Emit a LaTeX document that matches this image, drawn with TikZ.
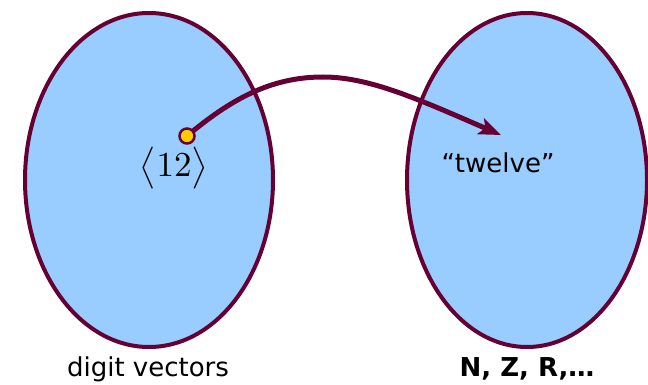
\documentclass[tikz,border=0pt]{standalone}
\usepackage{fontspec}
\setsansfont{DejaVu Sans}
\usetikzlibrary{positioning,arrows.meta,shapes.geometric}
\definecolor{ink}{HTML}{000000}
\definecolor{sMaroon}{HTML}{660033}
\definecolor{setBlue}{HTML}{99CCFF}
\definecolor{sGold}{HTML}{FFCC00}
\tikzset{
  setblob/.style={ellipse, draw=sMaroon, fill=setBlue, line width=4pt, inner sep=0pt, minimum width=248pt, minimum height=334pt},
  dot/.style={circle, draw=sMaroon, fill=sGold, line width=2.5pt, inner sep=0pt, minimum size=15pt},
  lbl/.style={font=\sffamily\fontsize{26}{30}\selectfont, text=ink, inner sep=0pt},
  maparrow/.style={-{Stealth[length=22pt, width=17pt, inset=5pt]}, draw=sMaroon, line width=5pt},
}

\begin{document}
\begin{tikzpicture}[x=1pt, y=-1pt, font=\sffamily]
\useasboundingbox (0,0) rectangle (648,385);
\node[setblob] (vec) at (149,180) {};
\node[setblob, minimum width=240pt] (num) at (527,180) {};
\node[lbl] (veclbl) at (148,369) {digit vectors};
\node[lbl, font=\sffamily\bfseries\fontsize{26}{30}\selectfont] (numlbl) at (527,369) {N, Z, R,\ldots};
\node[lbl, font=\rmfamily\normalsize, scale=3.5, transform shape] (vec12) at (174,168) {$\bigl\langle 12\bigr\rangle$};
\node[lbl] (word) at (498,163) {“twelve”};
\coordinate (tip) at (501,135);
\coordinate (srcpt) at (187,136);
\draw[maparrow] (srcpt) .. controls (230,100) and (270,77) .. (323,77) .. controls (370,77) and (420,100) .. (tip);
\node[dot] (src) at (srcpt) {};
\end{tikzpicture}
\end{document}
